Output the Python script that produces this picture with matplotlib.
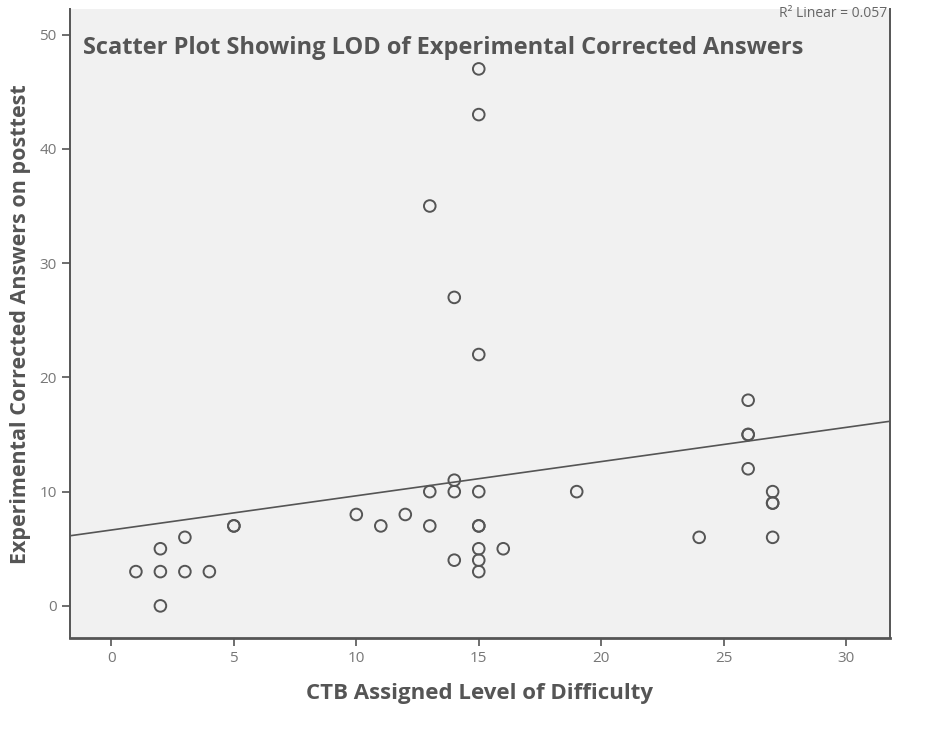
import matplotlib.pyplot as plt
import numpy as np

# LOD (CTB assigned level of difficulty) vs corrected answers on posttest
lod = [1, 2, 2, 2, 3, 3, 4, 5, 5,
       10, 11, 12, 13, 13, 13,
       14, 14, 14, 14,
       15, 15, 15, 15, 15, 15, 15, 15, 15,
       16, 19, 24,
       26, 26, 26, 26,
       27, 27, 27, 27]
answers = [3, 5, 3, 0, 6, 3, 3, 7, 7,
           8, 7, 8, 10, 7, 35,
           27, 11, 10, 4,
           47, 43, 22, 10, 7, 7, 5, 4, 3,
           5, 10, 6,
           18, 15, 15, 12,
           10, 9, 9, 6]

x_ticks = [0, 5, 10, 15, 20, 25, 30]
y_ticks = [0, 10, 20, 30, 40, 50]

plt.rcParams['font.family'] = ['Open Sans', 'DejaVu Sans']

fig = plt.figure(figsize=(9.43, 7.29), dpi=100)
ax = fig.add_axes([0.074, 0.125, 0.870, 0.862])
ax.set_facecolor('#f1f1f1')

ax.scatter(lod, answers, s=70, facecolors='none', edgecolors='#555555',
           linewidths=1.4, zorder=3)

# least squares fit line
slope, icept = np.polyfit(lod, answers, 1)
xl = np.array([-1.7, 31.8])
ax.plot(xl, icept + slope * xl, color='#555555', lw=1.2, zorder=2)

ax.set_xlim(-1.7, 31.8)
ax.set_ylim(-2.8, 52.2)
ax.set_xticks(x_ticks)
ax.set_yticks(y_ticks)
ax.tick_params(direction='out', length=6, color='#555555', labelcolor='#777777',
               labelsize=11, width=1.2)

for s in ['left', 'right', 'bottom']:
    ax.spines[s].set_color('#555555')
ax.spines['bottom'].set_linewidth(2)
ax.spines['left'].set_linewidth(1.4)
ax.spines['right'].set_linewidth(1.4)
ax.spines['top'].set_visible(False)

ax.text(0.016, 0.938, 'Scatter Plot Showing LOD of Experimental Corrected Answers',
        transform=ax.transAxes, fontsize=17, fontweight='bold', color='#555555',
        va='center', ha='left')
ax.text(0.997, 0.993, 'R² Linear = 0.057', transform=ax.transAxes,
        fontsize=10, color='#666666', ha='right', va='center')

ax.set_xlabel('CTB Assigned Level of Difficulty', fontsize=16, fontweight='bold',
              color='#555555', labelpad=12)
ax.set_ylabel('Experimental Corrected Answers on posttest', fontsize=15.5,
              fontweight='bold', color='#555555', labelpad=6)

fig.savefig('out.png', dpi=100, facecolor='white')
